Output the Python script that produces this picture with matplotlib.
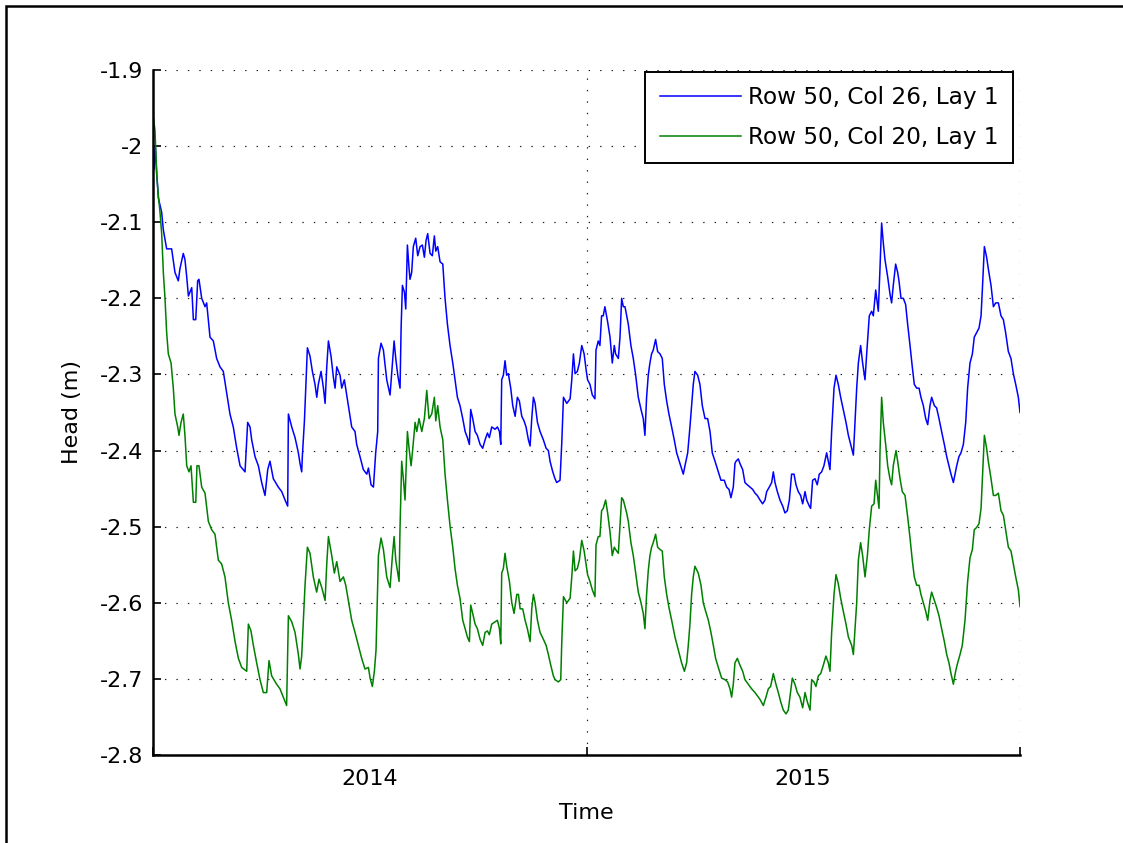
import matplotlib
matplotlib.use('Agg')
import matplotlib.pyplot as plt
from matplotlib.patches import Rectangle

# ---------------- data ----------------
series_labels = ['Row 50, Col 26, Lay 1', 'Row 50, Col 20, Lay 1']
series_colors = ['#0000ff', '#008000']

# (day since start of record, head in m) - Row 50, Col 26
blue_points = [
    (0, -1.990), (1, -2.030), (2, -2.000), (3.1, -2.035), (4.5, -2.068), (7.3, -2.087), (8.7, -2.110),
    (11.5, -2.135), (15.7, -2.135), (18.5, -2.166), (21.3, -2.177), (22.7, -2.161), (25.5, -2.141),
    (26.9, -2.149), (28.4, -2.172), (29.8, -2.197), (32.6, -2.186), (34.0, -2.228), (36.0, -2.228),
    (37.6, -2.177), (38.7, -2.175), (41.0, -2.200), (43.8, -2.211), (45.2, -2.206), (48.0, -2.251),
    (50.8, -2.256), (53.6, -2.279), (56.4, -2.290), (59.2, -2.296), (62.0, -2.324), (64.8, -2.352),
    (67.6, -2.369), (70.5, -2.397), (73.3, -2.420), (77.5, -2.428), (79.7, -2.363), (81.7, -2.369),
    (83.1, -2.386), (85.9, -2.408), (88.7, -2.420), (91.5, -2.442), (94.3, -2.459), (96.6, -2.425),
    (98.5, -2.414), (101.3, -2.437), (105.5, -2.448), (108.4, -2.454), (111.2, -2.465), (113.4, -2.473),
    (114.0, -2.352), (116.8, -2.369),
    (119.6, -2.383), (122.4, -2.403), (123.8, -2.417), (125.2, -2.428), (125.8, -2.406), (127.5, -2.361),
    (128.6, -2.318), (130.0, -2.265), (132.2, -2.276), (134.2, -2.296), (136.4, -2.313), (137.9, -2.330),
    (139.2, -2.313), (141.5, -2.296), (143.5, -2.318), (144.9, -2.338), (146.3, -2.290), (147.7, -2.256),
    (149.9, -2.276), (151.9, -2.304), (153.3, -2.318), (154.7, -2.290), (157.5, -2.301), (158.9, -2.318),
    (161.1, -2.307), (163.1, -2.327), (164.5, -2.341), (167.3, -2.369), (170.1, -2.375), (171.5, -2.392),
    (174.3, -2.408), (177.1, -2.425), (180.0, -2.431), (181.4, -2.423), (183.6, -2.445), (185.6, -2.448),
    (187.5, -2.403), (189.2, -2.375), (189.8, -2.279), (192.0, -2.259), (194.0, -2.268), (196.8, -2.307),
    (199.6, -2.327), (201.6, -2.285), (203.0, -2.256), (204.4, -2.279), (206.1, -2.301), (208.0, -2.318),
    (208.9, -2.239), (210.0, -2.183), (211.7, -2.192), (212.8, -2.214), (214.2, -2.130), (215.6, -2.161),
    (216.4, -2.175), (217.8, -2.166), (219.2, -2.132), (221.2, -2.121), (222.9, -2.144), (224.9, -2.132),
    (226.8, -2.130), (228.5, -2.146), (229.9, -2.124), (231.3, -2.115), (233.3, -2.141), (235.2, -2.144),
    (236.9, -2.118), (238.1, -2.138), (239.7, -2.132),
    (241.7, -2.152), (244.0, -2.155), (245.9, -2.200), (247.9, -2.234), (250.1, -2.262), (252.4, -2.285),
    (254.3, -2.307), (256.3, -2.330), (258.5, -2.341), (260.8, -2.358), (262.8, -2.375), (264.7, -2.383),
    (266.4, -2.392), (267.5, -2.346), (269.2, -2.358), (271.2, -2.375), (273.1, -2.380), (275.4, -2.392),
    (277.6, -2.397), (279.6, -2.386), (281.6, -2.377), (283.2, -2.383), (285.2, -2.369), (288.0, -2.372),
    (290.0, -2.369), (291.7, -2.375), (292.8, -2.392), (293.6, -2.307), (295.0, -2.301), (296.4, -2.282),
    (297.8, -2.301), (299.2, -2.299), (301.2, -2.318), (302.9, -2.341), (304.9, -2.355), (306.8, -2.330),
    (308.5, -2.335), (310.5, -2.355), (312.4, -2.361), (314.1, -2.369), (316.1, -2.386), (317.5, -2.394),
    (318.9, -2.358), (320.3, -2.330), (321.7, -2.338), (323.7, -2.363), (325.9, -2.375), (328.7, -2.386),
    (331.0, -2.397), (332.9, -2.400), (334.3, -2.414), (336.6, -2.428), (338.5, -2.437), (339.9, -2.442),
    (342.7, -2.439), (344.2, -2.389), (345.6, -2.330), (348.4, -2.338), (351.2, -2.332), (352.6, -2.307),
    (354.0, -2.273), (355.4, -2.299), (357.3, -2.296), (359.0, -2.285), (361.0, -2.262), (363.0, -2.273),
    (364.6, -2.293),
    (365.9, -2.307), (367.9, -2.313), (369.9, -2.327), (372.1, -2.332), (373.0, -2.268), (374.9, -2.256),
    (376.3, -2.262), (377.7, -2.223), (379.1, -2.223), (380.5, -2.211), (382.8, -2.231), (384.8, -2.251),
    (386.7, -2.285), (388.4, -2.262), (389.5, -2.273), (391.8, -2.279), (393.2, -2.251), (394.6, -2.200),
    (396.0, -2.211), (397.4, -2.211), (400.2, -2.234), (402.4, -2.262), (404.4, -2.279), (406.4, -2.301),
    (408.6, -2.330), (410.9, -2.346), (412.8, -2.358), (414.2, -2.380), (415.6, -2.330), (417.0, -2.301),
    (418.4, -2.285), (419.8, -2.273), (421.2, -2.268), (423.2, -2.254), (424.9, -2.270), (426.9, -2.273),
    (428.8, -2.279), (430.5, -2.313), (432.5, -2.335), (434.4, -2.352), (436.7, -2.369), (438.9, -2.386),
    (440.9, -2.403), (443.7, -2.417), (446.5, -2.431), (447.9, -2.420), (450.2, -2.403), (452.1, -2.369),
    (453.5, -2.341), (454.9, -2.313), (456.3, -2.296), (458.6, -2.301), (460.5, -2.313), (462.5, -2.341),
    (464.8, -2.358), (467.0, -2.358), (469.0, -2.375), (470.9, -2.403), (473.2, -2.414), (475.4, -2.425),
    (478.2, -2.439), (481.0, -2.439), (483.0, -2.448), (485.0, -2.451), (486.6, -2.462), (488.6, -2.448),
    (490.0, -2.417),
    (490.9, -2.414), (492.8, -2.411), (494.2, -2.417), (496.5, -2.425), (498.4, -2.442), (500.4, -2.445),
    (502.6, -2.448), (504.9, -2.451), (506.9, -2.456), (508.8, -2.459), (511.1, -2.465), (513.3, -2.470),
    (515.3, -2.465), (516.7, -2.454), (518.9, -2.448), (520.9, -2.442), (522.3, -2.428), (523.7, -2.442),
    (525.7, -2.454), (527.9, -2.465), (530.2, -2.473), (532.1, -2.482), (534.1, -2.479), (535.8, -2.465),
    (537.7, -2.431), (539.7, -2.431), (541.4, -2.445), (543.3, -2.454), (545.3, -2.459), (547.0, -2.470),
    (549.0, -2.454), (550.4, -2.465), (552.6, -2.473), (553.7, -2.476), (555.4, -2.439), (557.4, -2.437),
    (559.3, -2.445), (561.0, -2.431), (563.0, -2.428), (564.9, -2.420), (567.2, -2.403), (568.6, -2.414),
    (570.0, -2.425), (571.4, -2.375), (573.4, -2.318), (575.1, -2.301), (577.0, -2.313), (579.0, -2.330),
    (581.2, -2.346), (583.5, -2.363), (585.5, -2.380), (587.4, -2.392), (589.7, -2.406), (591.1, -2.363),
    (592.5, -2.318), (593.9, -2.285), (595.8, -2.262), (597.5, -2.285), (599.5, -2.307), (600.9, -2.273),
    (603.1, -2.223), (605.1, -2.217), (606.5, -2.223), (608.5, -2.189),
    (610.7, -2.217), (612.1, -2.161), (613.5, -2.101), (614.9, -2.127), (616.3, -2.149), (618.6, -2.172),
    (620.5, -2.194), (621.9, -2.206), (623.3, -2.183), (625.3, -2.155), (627.0, -2.166), (628.1, -2.177),
    (629.8, -2.200), (631.8, -2.200), (633.7, -2.208), (635.4, -2.234), (637.4, -2.262), (639.3, -2.290),
    (641.0, -2.313), (643.0, -2.318), (645.0, -2.318), (646.6, -2.330), (648.6, -2.341), (650.6, -2.358),
    (652.3, -2.366), (654.2, -2.341), (655.6, -2.330), (657.9, -2.341), (659.8, -2.344), (661.8, -2.358),
    (664.0, -2.375), (666.3, -2.392), (668.3, -2.408), (670.2, -2.420), (671.9, -2.431), (673.9, -2.442),
    (675.3, -2.431), (676.7, -2.420), (678.6, -2.408), (680.3, -2.403), (682.3, -2.392), (684.3, -2.363),
    (685.9, -2.318), (687.9, -2.285), (689.9, -2.273), (691.5, -2.251), (693.5, -2.245), (695.5, -2.239),
    (697.2, -2.223), (698.3, -2.189), (700.0, -2.132), (701.9, -2.146), (703.3, -2.161), (705.6, -2.183),
    (707.6, -2.211), (709.5, -2.206), (711.8, -2.206), (714.0, -2.223), (716.0, -2.228), (717.9, -2.245),
    (720.2, -2.270), (722.4, -2.279), (724.4, -2.299), (726.4, -2.313), (728.6, -2.330), (730.0, -2.350),
]

# (day since start of record, head in m) - Row 50, Col 20
green_points = [
    (0, -1.958), (1.7, -1.980), (3.1, -2.037), (4.5, -2.065), (5.9, -2.087), (7.3, -2.115), (8.7, -2.166),
    (10.1, -2.200), (11.5, -2.245), (12.9, -2.273), (15.2, -2.285), (17.1, -2.318), (18.5, -2.352),
    (20.8, -2.369), (21.9, -2.380), (23.6, -2.363), (25.5, -2.352), (26.9, -2.380), (28.4, -2.420),
    (30.3, -2.428), (32.0, -2.420), (34.0, -2.468), (36.0, -2.468), (37.0, -2.420), (38.7, -2.420),
    (41.0, -2.448), (43.8, -2.456), (46.6, -2.493), (49.4, -2.504), (52.2, -2.510), (55.0, -2.544),
    (57.8, -2.549), (60.6, -2.566), (63.4, -2.600), (66.2, -2.623), (69.1, -2.651), (71.9, -2.673),
    (74.7, -2.685), (78.9, -2.690), (80.3, -2.628), (82.5, -2.637), (84.5, -2.656), (87.3, -2.679),
    (90.1, -2.701), (92.9, -2.718), (95.7, -2.718), (97.7, -2.676), (99.9, -2.696), (104.1, -2.707),
    (106.9, -2.713), (109.7, -2.724), (112.5, -2.735), (114.0, -2.617), (116.8, -2.625), (119.6, -2.639),
    (122.4, -2.668), (123.8, -2.687), (125.2, -2.670), (126.6, -2.623), (128.0, -2.577), (130.0, -2.527),
    (132.2, -2.535), (135.0, -2.566), (137.8, -2.586), (139.8, -2.569), (142.1, -2.580), (144.9, -2.597),
    (146.3, -2.549), (147.7, -2.513), (150.5, -2.538), (152.7, -2.561), (154.7, -2.546), (157.5, -2.572),
    (160.3, -2.566), (162.3, -2.577), (164.5, -2.597), (167.3, -2.623), (170.1, -2.639), (172.9, -2.656),
    (175.7, -2.673), (178.5, -2.687), (181.4, -2.685), (182.8, -2.699), (184.7, -2.710), (186.4, -2.690),
    (187.8, -2.662), (189.8, -2.538), (192.0, -2.515), (194.0, -2.530), (196.8, -2.566), (199.6, -2.580),
    (201.6, -2.538), (203.0, -2.513), (204.4, -2.544), (207.2, -2.572), (208.0, -2.501), (209.4, -2.414),
    (210.8, -2.437), (212.2, -2.465), (214.2, -2.375), (215.6, -2.397), (217.3, -2.420), (218.4, -2.403),
    (220.7, -2.363), (222.1, -2.375), (224.0, -2.358), (226.3, -2.375), (228.5, -2.358), (230.5, -2.321),
    (232.4, -2.358), (234.7, -2.352), (236.9, -2.330), (238.1, -2.361), (239.7, -2.341),
    (241.7, -2.369), (244.0, -2.386), (245.9, -2.431), (247.9, -2.465), (250.1, -2.499), (252.4, -2.527),
    (254.3, -2.555), (256.3, -2.577), (258.5, -2.594), (260.8, -2.623), (262.8, -2.634), (264.7, -2.645),
    (266.4, -2.651), (267.5, -2.603), (269.2, -2.614), (271.2, -2.628), (273.1, -2.634), (275.4, -2.648),
    (277.6, -2.656), (279.6, -2.639), (281.6, -2.637), (283.2, -2.642), (285.2, -2.628), (288.0, -2.625),
    (290.0, -2.623), (291.7, -2.634), (292.8, -2.654), (293.6, -2.561), (295.0, -2.555), (296.4, -2.535),
    (297.8, -2.552), (300.1, -2.572), (302.1, -2.600), (304.0, -2.614), (306.3, -2.589), (307.7, -2.589),
    (309.1, -2.608), (311.3, -2.608), (313.3, -2.623), (315.2, -2.634), (317.5, -2.651), (318.9, -2.608),
    (320.3, -2.589), (321.7, -2.600), (323.7, -2.623), (325.9, -2.639), (328.7, -2.648), (331.0, -2.656),
    (332.9, -2.668), (334.9, -2.682), (337.1, -2.696), (338.5, -2.701), (341.3, -2.704), (343.3, -2.701),
    (344.2, -2.651), (345.6, -2.592), (348.4, -2.600), (351.2, -2.594), (352.6, -2.566), (354.0, -2.532),
    (355.4, -2.558), (357.3, -2.555), (359.0, -2.544), (361.0, -2.518), (363.0, -2.532), (364.6, -2.549),
    (365.9, -2.563), (367.9, -2.572), (369.9, -2.583), (372.1, -2.592), (373.0, -2.524), (374.9, -2.513),
    (376.3, -2.513), (377.7, -2.479), (379.1, -2.476), (381.1, -2.465), (382.8, -2.482), (384.8, -2.507),
    (386.7, -2.538), (388.4, -2.527), (389.5, -2.530), (391.8, -2.535), (393.2, -2.499), (394.6, -2.462),
    (396.0, -2.465), (398.8, -2.482), (400.2, -2.493), (402.4, -2.521), (404.4, -2.538), (406.4, -2.561),
    (408.6, -2.586), (410.9, -2.600), (412.8, -2.614), (414.2, -2.634), (415.6, -2.589), (417.0, -2.558),
    (418.4, -2.538), (419.8, -2.527), (421.2, -2.521), (423.2, -2.510), (424.9, -2.527), (426.9, -2.530),
    (428.8, -2.532), (430.5, -2.566), (432.5, -2.589), (434.4, -2.606), (436.7, -2.623), (439.5, -2.645),
    (442.3, -2.662), (445.1, -2.679), (447.4, -2.690), (449.3, -2.679), (450.7, -2.656), (452.1, -2.628),
    (453.5, -2.589), (454.9, -2.566), (456.3, -2.552), (459.1, -2.561), (461.4, -2.577), (463.3, -2.600),
    (465.3, -2.611), (467.6, -2.623), (469.8, -2.639), (471.8, -2.656), (473.7, -2.673), (476.0, -2.685),
    (478.8, -2.699), (481.6, -2.701), (483.8, -2.704), (485.8, -2.713), (487.2, -2.724), (488.6, -2.707),
    (490.0, -2.679),
    (492.0, -2.673), (494.2, -2.682), (496.5, -2.690), (498.4, -2.701), (501.2, -2.707), (504.0, -2.713),
    (506.9, -2.718), (511.1, -2.727), (513.9, -2.735), (516.1, -2.724), (518.1, -2.713), (520.0, -2.710),
    (522.3, -2.693), (524.5, -2.707), (526.5, -2.718), (528.5, -2.730), (530.7, -2.741), (533.0, -2.746),
    (534.9, -2.741), (536.3, -2.724), (538.3, -2.699), (540.5, -2.707), (542.5, -2.718), (544.7, -2.724),
    (547.0, -2.738), (549.0, -2.718), (550.9, -2.730), (553.2, -2.741), (554.6, -2.701), (556.5, -2.704),
    (558.2, -2.710), (560.2, -2.696), (562.2, -2.693), (564.4, -2.682), (566.6, -2.670), (568.6, -2.679),
    (570.0, -2.690), (571.4, -2.639), (573.4, -2.589), (575.1, -2.563), (577.0, -2.575), (579.0, -2.594),
    (581.2, -2.611), (583.5, -2.628), (585.5, -2.645), (588.3, -2.656), (589.7, -2.668), (591.1, -2.634),
    (592.5, -2.600), (593.9, -2.544), (595.8, -2.521), (597.5, -2.538), (599.5, -2.566), (601.5, -2.538),
    (603.1, -2.504), (605.1, -2.473), (607.1, -2.470), (608.5, -2.439),
    (611.3, -2.476), (612.1, -2.403), (613.5, -2.330), (614.9, -2.363), (616.9, -2.392), (618.6, -2.420),
    (620.5, -2.437), (621.9, -2.445), (623.3, -2.420), (625.6, -2.400), (627.0, -2.414), (629.0, -2.437),
    (630.9, -2.454), (633.2, -2.459), (635.4, -2.487), (637.4, -2.515), (639.3, -2.544), (641.0, -2.566),
    (643.0, -2.577), (645.0, -2.577), (646.6, -2.589), (648.6, -2.600), (650.6, -2.611), (652.3, -2.623),
    (654.2, -2.597), (655.6, -2.586), (657.9, -2.597), (659.8, -2.606), (661.8, -2.617), (664.0, -2.634),
    (666.3, -2.651), (668.3, -2.668), (670.2, -2.679), (671.9, -2.693), (673.9, -2.707), (675.8, -2.690),
    (677.5, -2.679), (679.5, -2.668), (681.4, -2.656), (683.7, -2.623), (685.9, -2.572), (687.9, -2.541),
    (689.9, -2.530), (691.5, -2.504), (693.5, -2.501), (695.5, -2.496), (697.2, -2.476), (698.3, -2.437),
    (700.0, -2.380), (701.9, -2.397), (703.3, -2.414), (705.6, -2.437), (707.6, -2.459), (709.5, -2.459),
    (711.8, -2.456), (714.0, -2.479), (716.0, -2.485), (717.9, -2.504), (720.2, -2.527), (722.4, -2.532),
    (724.4, -2.549), (726.4, -2.566), (728.6, -2.583), (730.0, -2.605),
]

y_ticks = [-2.8, -2.7, -2.6, -2.5, -2.4, -2.3, -2.2, -2.1, -2.0, -1.9]
y_tick_labels = ['-2.8', '-2.7', '-2.6', '-2.5', '-2.4', '-2.3', '-2.2', '-2.1', '-2', '-1.9']
year_bounds = [0, 365, 730]
year_label_days = [182.5, 547.5]
year_labels = ['2014', '2015']
x_title = 'Time'
y_title = 'Head (m)'

# ---------------- figure ----------------
plt.rcParams['font.family'] = ['DejaVu Sans']
FS = 16
W, H = 1123, 843
fig = plt.figure(figsize=(W / 100, H / 100), dpi=100)
fig.patch.set_facecolor('white')

# outer frame of the figure window (left and top edges visible)
fig.add_artist(Rectangle((5.5 / W, -0.1), 1.2, 1.1 - 6 / H, transform=fig.transFigure,
                         fill=False, edgecolor='black', linewidth=1.8))

ax = fig.add_axes([153 / W, 1 - 755 / H, 867 / W, 685 / H])

for pts, color, label in zip([blue_points, green_points], series_colors, series_labels):
    days = [p[0] for p in pts]
    heads = [p[1] for p in pts]
    ax.plot(days, heads, color=color, linewidth=1.1, label=label)

ax.set_xlim(0, 730)
ax.set_ylim(-2.8, -1.9)

for s in ['top', 'right']:
    ax.spines[s].set_visible(False)
for s in ['left', 'bottom']:
    ax.spines[s].set_linewidth(1.8)
    ax.spines[s].set_color('black')

ax.set_yticks(y_ticks)
ax.set_yticklabels(y_tick_labels)
ax.set_xticks(year_bounds)
ax.set_xticklabels(['' for _ in year_bounds])
ax.set_xticks(year_label_days, minor=True)
ax.set_xticklabels(year_labels, minor=True)

ax.tick_params(axis='both', which='major', direction='in', length=6, width=1.2,
               labelsize=FS, colors='black')
ax.tick_params(axis='y', which='major', pad=7)
ax.tick_params(axis='x', which='minor', length=0, pad=10, labelsize=FS)
ax.tick_params(axis='y', which='minor', left=False)

ax.grid(True, which='major', linestyle=(0, (1.2, 8.5)), color='#202020', linewidth=0.85)
ax.grid(False, which='minor')

ax.set_xlabel(x_title, fontsize=FS)
ax.set_ylabel(y_title, fontsize=FS)
ax.xaxis.set_label_coords(0.5, -0.07)
ax.yaxis.set_label_coords(-0.082, 0.5)

leg = ax.legend(loc='upper right', bbox_to_anchor=(1013 / W, 1 - 72 / H),
                bbox_transform=fig.transFigure, borderaxespad=0, fontsize=16.7,
                frameon=True, fancybox=False, shadow=False, framealpha=1,
                edgecolor='black', handlelength=3.5, handletextpad=0.3,
                labelspacing=0.72, borderpad=0.62)
leg.get_frame().set_linewidth(1.4)

fig.savefig('out.png', dpi=100, facecolor='white')
